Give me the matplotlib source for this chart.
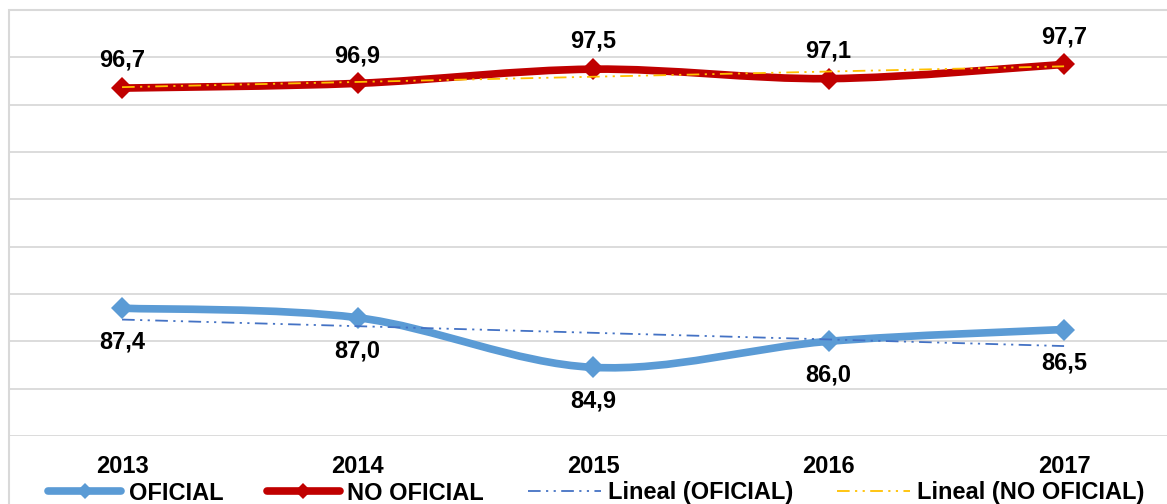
import numpy as np
import matplotlib
matplotlib.use("Agg")
import matplotlib.pyplot as plt
from matplotlib.path import Path
from matplotlib.patches import PathPatch, Rectangle
from matplotlib.lines import Line2D

# datos
years = ["2013", "2014", "2015", "2016", "2017"]
oficial = [87.4, 87.0, 84.9, 86.0, 86.5]
no_oficial = [96.7, 96.9, 97.5, 97.1, 97.7]

BLUE = "#5B9BD5"
RED = "#C00000"
TREND_BLUE = "#4472C4"
TREND_ORANGE = "#FFC000"
GRID = "#D9D9D9"

plt.rcParams["font.family"] = ["Liberation Sans", "DejaVu Sans"]
plt.rcParams["font.weight"] = "bold"
FS = 17


def smooth_path(xs, ys):
    """Curva suavizada tipo Excel (Bezier Catmull-Rom) a partir de los puntos."""
    pts = np.column_stack([xs, ys]).astype(float)
    verts = [pts[0]]
    codes = [Path.MOVETO]
    n = len(pts)
    for i in range(n - 1):
        p0 = pts[i - 1] if i > 0 else pts[i]
        p1 = pts[i]
        p2 = pts[i + 1]
        p3 = pts[i + 2] if i + 2 < n else pts[i + 1]
        verts += [p1 + (p2 - p0) / 6, p2 - (p3 - p1) / 6, p2]
        codes += [Path.CURVE4] * 3
    return Path(verts, codes)


W, H = 1167, 504
fig = plt.figure(figsize=(W / 100, H / 100), dpi=100)
ax = fig.add_axes([9 / W, 68 / H, (W - 9) / W, 426 / H])

x = np.arange(len(years))

# lineas principales suavizadas
for vals, col in [(oficial, BLUE), (no_oficial, RED)]:
    ax.add_patch(PathPatch(smooth_path(x, vals), facecolor="none", edgecolor=col,
                           lw=5.5, capstyle="round", joinstyle="round", zorder=3))
    ax.plot(x, vals, linestyle="none", marker="D", markersize=11, color=col,
            markeredgewidth=0, zorder=4)

# lineas de tendencia (lineal)
dash = (7, 3, 1.2, 3, 1.2, 3)
for vals, col in [(oficial, TREND_BLUE), (no_oficial, TREND_ORANGE)]:
    m, b = np.polyfit(x, vals, 1)
    ax.plot(x, m * x + b, color=col, lw=1.3, dashes=dash, zorder=5)

# etiquetas de datos
for xi, v in zip(x, no_oficial):
    ax.annotate(f"{v:.1f}".replace(".", ","), (xi, v), xytext=(0, 20),
                textcoords="offset points", ha="center", va="center",
                fontsize=FS, fontweight="bold")
for xi, v in zip(x, oficial):
    ax.annotate(f"{v:.1f}".replace(".", ","), (xi, v), xytext=(0, -24),
                textcoords="offset points", ha="center", va="center",
                fontsize=FS, fontweight="bold")

ax.set_xlim(-0.48, 4.437)
ax.set_ylim(82, 100)
ax.set_yticks(np.arange(82, 101, 2))
ax.yaxis.grid(True, color=GRID, lw=1.3)
ax.set_axisbelow(True)
ax.tick_params(axis="y", left=False, labelleft=False)
ax.set_xticks(x)
ax.set_xticklabels(years, fontsize=FS, fontweight="bold")
ax.tick_params(axis="x", length=0, pad=14)
for s in ax.spines.values():
    s.set_visible(False)
ax.patch.set_alpha(0)

# borde del grafico
fig.add_artist(Rectangle((9 / W, -0.2), 1.5, 0.2 + 494 / H, transform=fig.transFigure,
                         facecolor="none", edgecolor=GRID, lw=1.5))

handles = [
    Line2D([], [], color=BLUE, lw=5.5, marker="D", markersize=8, markeredgewidth=0,
           solid_capstyle="round"),
    Line2D([], [], color=RED, lw=5.5, marker="D", markersize=8, markeredgewidth=0,
           solid_capstyle="round"),
    Line2D([], [], color=TREND_BLUE, lw=1.3, dashes=dash),
    Line2D([], [], color=TREND_ORANGE, lw=1.3, dashes=dash),
]
labels = ["OFICIAL", "NO OFICIAL", "Lineal (OFICIAL)", "Lineal (NO OFICIAL)"]
fig.legend(handles, labels, loc="center", bbox_to_anchor=(0.511, 1 - 493 / H),
           ncol=4, frameon=False, numpoints=1, prop={"size": FS, "weight": "bold"},
           handlelength=3.1, handletextpad=0.3, columnspacing=1.85,
           borderpad=0, borderaxespad=0)

fig.savefig("out.png", dpi=100)
